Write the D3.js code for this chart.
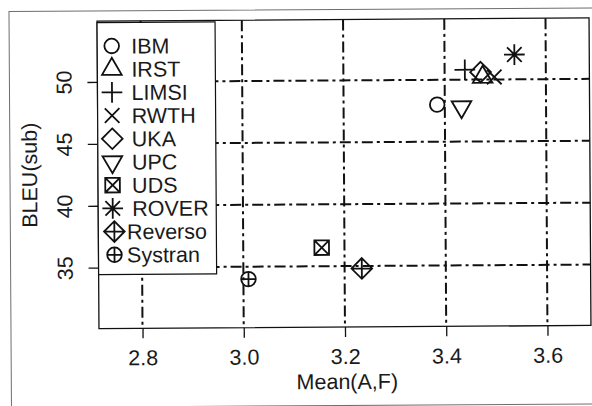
<!DOCTYPE html>
<html>
<head>
<meta charset="utf-8">
<script src="https://cdn.jsdelivr.net/npm/d3@7"></script>
<style>
  html, body { margin: 0; padding: 0; background: #fff; }
  svg { display: block; font-family: "Liberation Sans", Arial, Helvetica, sans-serif; }
</style>
</head>
<body>
<svg id="chart" width="592" height="406"></svg>
<script>
// MT systems: human judgement mean vs. BLEU on the sub-sampled test set
const systems = ["IBM", "IRST", "LIMSI", "RWTH", "UKA", "UPC", "UDS", "ROVER", "Reverso", "Systran"];
const meanAF  = [3.385, 3.475, 3.440, 3.498, 3.471, 3.433, 3.155, 3.538, 3.234, 3.010];
const bleuSub = [48.0, 50.2, 50.8, 50.2, 50.6, 47.8, 36.5, 52.0, 34.8, 34.0];
// plotting symbol per system (R pch codes 1..10)
const pchCodes = [1, 2, 3, 4, 5, 6, 7, 8, 9, 10];

const xTicks = [2.8, 3.0, 3.2, 3.4, 3.6];
const yTicks = [35, 40, 45, 50];
const xLimits = [2.75, 3.65];
const yLimits = [31, 54];

// ---- layout ----
const W = 592, H = 406;
const plot = { left: 98, right: 590, top: 19.5, bottom: 327 };
const fontSize = 21.5;
const symR = 7.3;

// R-style axis padding (4% on each side)
const pad = (lim) => { const d = (lim[1] - lim[0]) * 0.04; return [lim[0] - d, lim[1] + d]; };
const x = d3.scaleLinear().domain(pad(xLimits)).range([plot.left, plot.right]);
const y = d3.scaleLinear().domain(pad(yLimits)).range([plot.bottom, plot.top]);

// ---- symbol types modelled on R's plotting characters ----
const S2 = Math.SQRT2;
function seg(c, x0, y0, x1, y1) { c.moveTo(x0, y0); c.lineTo(x1, y1); }
function circ(c, r) { c.moveTo(r, 0); c.arc(0, 0, r, 0, 2 * Math.PI); }
function tri(c, r, up) {
  const t0 = Math.sqrt(4 * Math.PI / (3 * Math.sqrt(3)));
  const a = t0 * r, xc = t0 * Math.sqrt(3) / 2 * r, yc = t0 / 2 * r;
  const s = up ? 1 : -1;
  c.moveTo(0, -s * a); c.lineTo(xc, s * yc); c.lineTo(-xc, s * yc); c.closePath();
}
function diamond(c, h) { c.moveTo(0, -h); c.lineTo(h, 0); c.lineTo(0, h); c.lineTo(-h, 0); c.closePath(); }
function plus(c, h) { seg(c, -h, 0, h, 0); seg(c, 0, -h, 0, h); }
function times(c, h) { seg(c, -h, -h, h, h); seg(c, -h, h, h, -h); }
const pchTypes = {
  1: { draw(c, s) { circ(c, Math.sqrt(s)); } },
  2: { draw(c, s) { tri(c, Math.sqrt(s), true); } },
  3: { draw(c, s) { plus(c, S2 * Math.sqrt(s)); } },
  4: { draw(c, s) { times(c, Math.sqrt(s)); } },
  5: { draw(c, s) { diamond(c, S2 * Math.sqrt(s)); } },
  6: { draw(c, s) { tri(c, Math.sqrt(s), false); } },
  7: { draw(c, s) { const r = Math.sqrt(s); c.rect(-r, -r, 2 * r, 2 * r); times(c, r); } },
  8: { draw(c, s) { const r = Math.sqrt(s); times(c, r); plus(c, S2 * r); } },
  9: { draw(c, s) { const r = Math.sqrt(s); diamond(c, S2 * r); plus(c, S2 * r); } },
  10: { draw(c, s) { const r = Math.sqrt(s); circ(c, r); plus(c, r); } }
};
const symbolPath = (code) => d3.symbol().type(pchTypes[code]).size(symR * symR)();

const svg = d3.select("#chart");
svg.append("rect").attr("width", W).attr("height", H).attr("fill", "#fff");

// the whole figure sits very slightly tilted on the page
const fig = svg.append("g").attr("transform", "rotate(-0.36, 345, 173)");

// figure frame
fig.append("rect")
  .attr("x", 10).attr("y", 9.5).attr("width", 640).attr("height", 396)
  .attr("fill", "none").attr("stroke", "#6e6e6e").attr("stroke-width", 1);

// grid
const gridStyle = (sel) => sel.attr("stroke", "#111").attr("stroke-width", 2)
  .attr("stroke-dasharray", "11,4,3,4").attr("fill", "none");
fig.append("g").selectAll("line").data(xTicks).join("line")
  .attr("x1", d => x(d)).attr("x2", d => x(d))
  .attr("y1", plot.top).attr("y2", plot.bottom)
  .call(gridStyle);
fig.append("g").selectAll("line").data(yTicks).join("line")
  .attr("y1", d => y(d)).attr("y2", d => y(d))
  .attr("x1", plot.left).attr("x2", plot.right)
  .call(gridStyle);

// axes
const xAxis = fig.append("g")
  .attr("transform", `translate(0,${plot.bottom})`)
  .call(d3.axisBottom(x).tickValues(xTicks).tickFormat(d3.format(".1f")).tickSize(10).tickPadding(12));
const yAxis = fig.append("g")
  .attr("transform", `translate(${plot.left},0)`)
  .call(d3.axisLeft(y).tickValues(yTicks).tickFormat(d3.format("d")).tickSize(10));
[xAxis, yAxis].forEach(a => {
  a.select(".domain").remove();
  a.selectAll("line").attr("stroke", "#111").attr("stroke-width", 1.3);
  a.selectAll("text").attr("fill", "#1a1a1a").attr("font-size", fontSize).attr("font-family", null);
});
xAxis.selectAll("text").attr("dy", null).attr("y", 37);
yAxis.selectAll("text")
  .attr("x", null).attr("dy", null)
  .attr("text-anchor", "middle")
  .attr("transform", "translate(-26,0) rotate(-90)");

// plot box
fig.append("rect")
  .attr("x", plot.left).attr("y", plot.top)
  .attr("width", plot.right - plot.left).attr("height", plot.bottom - plot.top)
  .attr("fill", "none").attr("stroke", "#111").attr("stroke-width", 1.3);

// axis titles
fig.append("text")
  .attr("x", (plot.left + plot.right) / 2 + 2).attr("y", 389)
  .attr("text-anchor", "middle").attr("font-size", fontSize).attr("fill", "#1a1a1a")
  .text("Mean(A,F)");
fig.append("text")
  .attr("transform", `translate(37,${(plot.top + plot.bottom) / 2}) rotate(-90)`)
  .attr("text-anchor", "middle").attr("font-size", fontSize).attr("fill", "#1a1a1a")
  .text("BLEU(sub)");

// points
const pts = systems.map((s, i) => ({ name: s, mx: meanAF[i], b: bleuSub[i], pch: pchCodes[i] }));
fig.append("g").selectAll("path").data(pts).join("path")
  .attr("transform", d => `translate(${x(d.mx)},${y(d.b)})`)
  .attr("d", d => symbolPath(d.pch))
  .attr("fill", "none").attr("stroke", "#111").attr("stroke-width", 1.8);

// legend (top-left inset)
const leg = { x: plot.left, y: plot.top + 1.5, w: 118, h: 252, first: 23.5, step: 23.2, symX: 14.5, textX: 34, tight: ["Reverso", "Systran"] };
const lg = fig.append("g").attr("transform", `translate(${leg.x},${leg.y})`);
lg.append("rect").attr("width", leg.w).attr("height", leg.h)
  .attr("fill", "#fff").attr("stroke", "#111").attr("stroke-width", 1.2);
const items = lg.selectAll("g.item").data(pts).join("g")
  .attr("class", "item")
  .attr("transform", (d, i) => `translate(0,${leg.first + i * leg.step})`);
items.append("path")
  .attr("transform", d => `translate(${leg.symX + (leg.tight.includes(d.name) ? 1.5 : 0)},0)`)
  .attr("d", d => symbolPath(d.pch))
  .attr("fill", "none").attr("stroke", "#111").attr("stroke-width", 1.8);
items.append("text")
  .attr("x", d => leg.textX - (leg.tight.includes(d.name) ? 5.5 : 0))
  .attr("y", fontSize * 0.358)
  .attr("font-size", fontSize).attr("fill", "#1a1a1a")
  .text(d => d.name);
</script>
</body>
</html>
